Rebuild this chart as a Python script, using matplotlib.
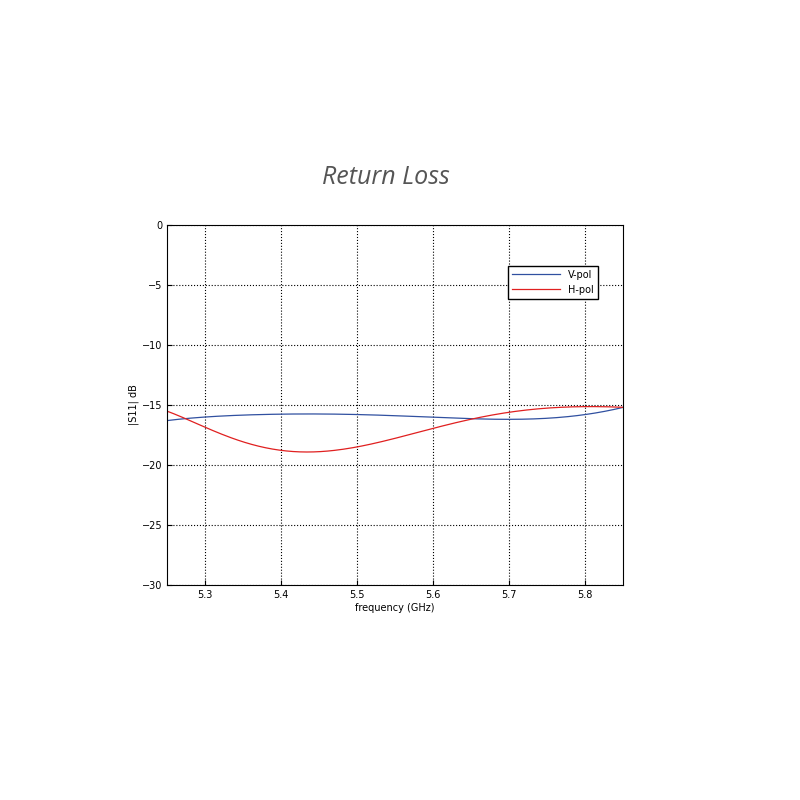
import numpy as np
import matplotlib.pyplot as plt

freq = [5.25, 5.30, 5.35, 5.40, 5.45, 5.50, 5.55, 5.60, 5.65, 5.70, 5.75, 5.80, 5.85]
v_pol = [-16.3, -16.0, -15.85, -15.75, -15.75, -15.8, -15.9, -16.0, -16.15, -16.2, -16.1, -15.8, -15.2]
h_pol = [-15.5, -16.9, -18.0, -18.8, -18.9, -18.5, -17.8, -16.9, -16.2, -15.6, -15.3, -15.1, -15.2]

def smooth(x, y):
    xs = np.linspace(x[0], x[-1], 200)
    c = np.polyfit(x, y, 6)
    return xs, np.polyval(c, xs)

fig = plt.figure(figsize=(8, 8), dpi=100)
ax = fig.add_axes([167/800, 1-585/800, 456/800, 360/800])

xs, ys = smooth(freq, v_pol)
ax.plot(xs, ys, color='#3050a0', lw=0.9, label='V-pol')
xs, ys = smooth(freq, h_pol)
ax.plot(xs, ys, color='#e02020', lw=0.9, label='H-pol')

ax.set_xlim(5.25, 5.85)
ax.set_ylim(-30, 0)
ax.set_xticks([5.3, 5.4, 5.5, 5.6, 5.7, 5.8])
ax.set_yticks(range(-30, 1, 5))
ax.grid(True, linestyle=':', color='black', lw=0.8)
ax.tick_params(labelsize=7, direction='in')
ax.set_xlabel('frequency (GHz)', fontsize=7, labelpad=2)
ax.set_ylabel('|S11| dB', fontsize=7, labelpad=2)
ax.legend(loc='upper right', bbox_to_anchor=(0.955, 0.9), fontsize=7,
          handlelength=5, fancybox=False, edgecolor='black', framealpha=1)

fig.text(0.482, 1-178/800, 'Return Loss', fontsize=18, style='italic',
         family='Open Sans', color='#555555', ha='center', va='center')

fig.savefig('out.png')
